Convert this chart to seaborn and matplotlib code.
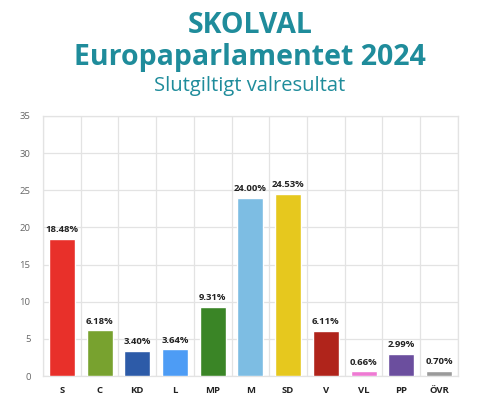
import matplotlib
matplotlib.use("Agg")
import matplotlib.pyplot as plt
import numpy as np
import pandas as pd
import seaborn as sns

# ── Data ─────────────────────────────────────────────────────────────────────
parties = ["S", "C", "KD", "L", "MP", "M", "SD", "V", "VL", "PP", "ÖVR"]
shares  = [18.48, 6.18, 3.40, 3.64, 9.31, 24.00, 24.53, 6.11, 0.66, 2.99, 0.70]
colors  = ["#e8302a", "#78a22f", "#2d5ba8", "#4d9cf5", "#3a8526", "#7dbde3",
           "#e6c81e", "#b0241b", "#ee7ad3", "#6b4e9e", "#9a9a9a"]
y_ticks = [0, 5, 10, 15, 20, 25, 30, 35]

TEAL = "#1f8c9b"

sns.set_style("white")
plt.rcParams["font.family"] = ["Open Sans", "DejaVu Sans"]

df = pd.DataFrame({"party": parties, "share": shares})

fig = plt.figure(figsize=(4.81, 3.99), dpi=100)
ax = fig.add_axes([0.0894, 0.0576, 0.8626, 0.652])

sns.barplot(data=df, x="party", y="share", hue="party",
            palette=dict(zip(parties, colors)), width=0.69,
            legend=False, ax=ax, saturation=1, zorder=3)

# ── Axes & grid ──────────────────────────────────────────────────────────────
ax.set_xlim(-0.5, len(parties) - 0.5)
ax.set_ylim(0, 35)
ax.set_yticks(y_ticks)
ax.set_xticks(np.arange(len(parties) + 1) - 0.5, minor=True)
ax.grid(axis="y", color="#e3e3e3", lw=0.9, zorder=0)
ax.grid(axis="x", which="minor", color="#e3e3e3", lw=0.9, zorder=0)
ax.grid(axis="x", which="major", visible=False)
for s in ax.spines.values():
    s.set_color("#e3e3e3")
    s.set_linewidth(0.9)
ax.tick_params(axis="y", labelsize=6.8, colors="#666666", length=0, pad=9)
ax.tick_params(axis="x", which="both", length=0, pad=7)
for lbl in ax.get_xticklabels():
    lbl.set_fontsize(6.8)
    lbl.set_fontweight("bold")
    lbl.set_color("#222222")
ax.set_xlabel("")
ax.set_ylabel("")

# value labels
for i, v in enumerate(shares):
    ax.text(i, v + 0.6, f"{v:.2f}%", ha="center", va="bottom",
            fontsize=6.8, fontweight="bold", color="#222222")

# ── Titles ───────────────────────────────────────────────────────────────────
fig.text(0.52, 0.937, "SKOLVAL", ha="center", va="center",
         fontsize=20.5, fontweight="bold", color=TEAL)
fig.text(0.52, 0.857, "Europaparlamentet 2024", ha="center", va="center",
         fontsize=20.5, fontweight="bold", color=TEAL)
fig.text(0.52, 0.785, "Slutgiltigt valresultat", ha="center", va="center",
         fontsize=14.5, color=TEAL)

fig.savefig("out.png", dpi=100)
